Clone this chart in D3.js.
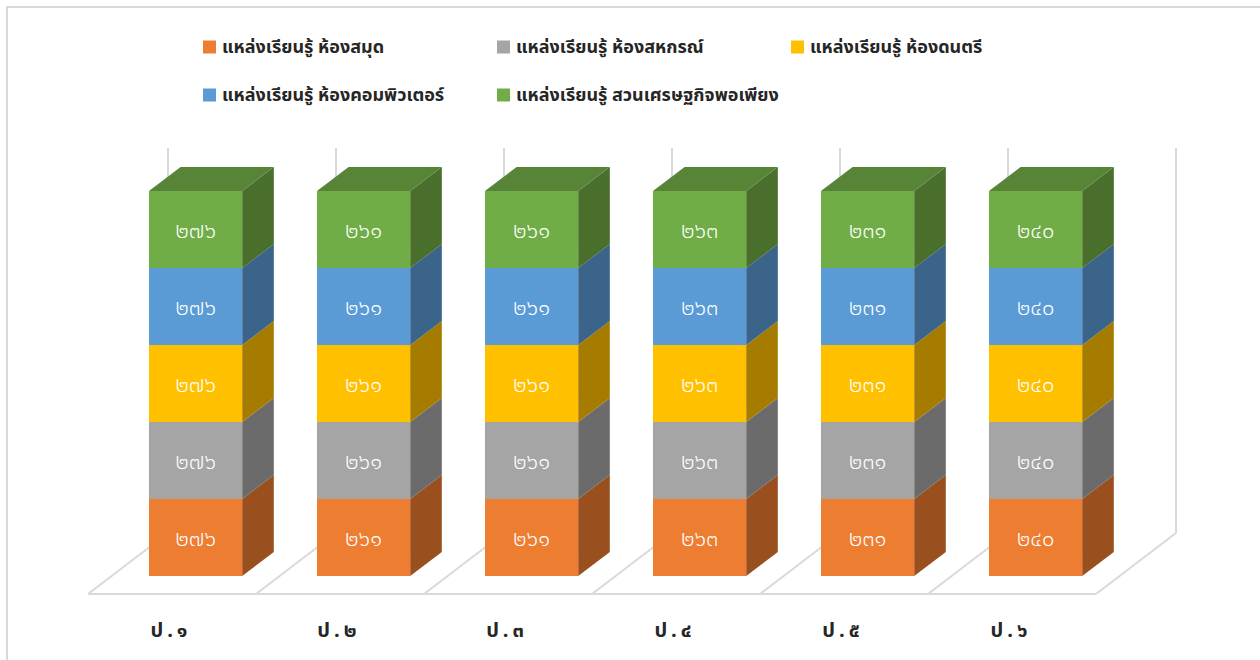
<!DOCTYPE html>
<html>
<head>
<meta charset="utf-8">
<script src="https://cdn.jsdelivr.net/npm/d3@7"></script>
<style>
  body { margin: 0; background: #fff; }
  svg text { font-family: "Noto Sans Thai", "Tahoma", "Noto Sans", sans-serif; }
</style>
</head>
<body>
<svg id="chart" width="1260" height="660"></svg>
<script>
// chart data
const categories = ['ป.๑', 'ป.๒', 'ป.๓', 'ป.๔', 'ป.๕', 'ป.๖'];
const seriesNames = [
  'แหล่งเรียนรู้ ห้องสมุด',
  'แหล่งเรียนรู้ ห้องสหกรณ์',
  'แหล่งเรียนรู้ ห้องดนตรี',
  'แหล่งเรียนรู้ ห้องคอมพิวเตอร์',
  'แหล่งเรียนรู้ สวนเศรษฐกิจพอเพียง'
];
const library = [276, 261, 261, 263, 231, 240];
const coop = [276, 261, 261, 263, 231, 240];
const music = [276, 261, 261, 263, 231, 240];
const computer = [276, 261, 261, 263, 231, 240];
const garden = [276, 261, 261, 263, 231, 240];

const front = ['#ED7D31', '#A5A5A5', '#FFC000', '#5B9BD5', '#70AD47'];
const side = ['#9A4F1F', '#6B6B6B', '#A67C00', '#3A6489', '#4A6F2D'];
const topCol = '#578436';

const thaiDigits = '๐๑๒๓๔๕๖๗๘๙';
const toThai = n => String(n).replace(/[0-9]/g, d => thaiDigits[+d]);

const svg = d3.select('#chart');

// chart border
svg.append('rect')
  .attr('x', 7).attr('y', 7)
  .attr('width', 1300).attr('height', 700)
  .attr('fill', 'none')
  .attr('stroke', '#d9d9d9')
  .attr('stroke-width', 2);

// build table and stack to 100%
const keys = ['library', 'coop', 'music', 'computer', 'garden'];
const cols = [library, coop, music, computer, garden];
const table = categories.map((c, i) => {
  const row = { cat: c };
  keys.forEach((k, j) => row[k] = cols[j][i]);
  return row;
});
const stacked = d3.stack().keys(keys).offset(d3.stackOffsetExpand)(table);

// 3d geometry
const floorY = 594;
const DX = 80, DY = 61;          // floor depth vector
const d0 = 0.295, d1 = 0.69;     // bar depth range
const x = d3.scaleBand().domain(categories).range([88, 1096]).padding(0);
const y = d3.scaleLinear().domain([0, 1]).range([0, 385]);
const barW = x.bandwidth() * 0.555;
const proj = (px, v, d) => [px + d * DX, floorY - y(v) - d * DY];
const poly = pts => 'M' + pts.map(p => p.join(',')).join('L') + 'Z';

const grid = svg.append('g').attr('stroke', '#d9d9d9').attr('stroke-width', 2).attr('fill', 'none');
const bounds = categories.map(c => x(c)).concat([x.range()[1]]);
// floor gridlines
bounds.forEach(b => {
  grid.append('path').attr('d', 'M' + proj(b, 0, 0) + 'L' + proj(b, 0, 1));
});
grid.append('path').attr('d', 'M' + proj(bounds[0], 0, 0) + 'L' + proj(bounds[bounds.length - 1], 0, 0));
// back wall gridlines
bounds.forEach(b => {
  grid.append('path').attr('d', 'M' + proj(b, 0, 1) + 'L' + proj(b, 1, 1));
});

// bars
const bars = svg.append('g');
categories.forEach((c, i) => {
  const xl = x(c) + (x.bandwidth() - barW) / 2;
  const xr = xl + barW;
  const g = bars.append('g');
  stacked.forEach((s, j) => {
    const lo = s[i][0], hi = s[i][1];
    // front
    g.append('path')
      .attr('d', poly([proj(xl, lo, d0), proj(xr, lo, d0), proj(xr, hi, d0), proj(xl, hi, d0)]))
      .attr('fill', front[j]);
    // side
    g.append('path')
      .attr('d', poly([proj(xr, lo, d0), proj(xr, lo, d1), proj(xr, hi, d1), proj(xr, hi, d0)]))
      .attr('fill', side[j]);
    if (j === stacked.length - 1) {
      g.append('path')
        .attr('d', poly([proj(xl, hi, d0), proj(xr, hi, d0), proj(xr, hi, d1), proj(xl, hi, d1)]))
        .attr('fill', topCol);
    }
    const p = proj((xl + xr) / 2, (lo + hi) / 2, d0);
    g.append('text')
      .attr('x', p[0]).attr('y', p[1])
      .attr('dy', '0.4em')
      .attr('text-anchor', 'middle')
      .attr('fill', '#fff')
      .style('font-size', '22px')
      .style('font-weight', '300')
      .text(toThai(s[i].data[s.key]));
  });
});

// category labels
svg.append('g').selectAll('text')
  .data(categories)
  .join('text')
  .attr('x', d => x(d) + x.bandwidth() / 2 - 1)
  .attr('y', 630)
  .attr('dy', '0.35em')
  .attr('text-anchor', 'middle')
  .attr('fill', '#262626')
  .style('font-size', '20px')
  .style('font-weight', 'bold')
  .style('letter-spacing', '4px')
  .text(d => d);

// legend
const legendPos = [[203, 47], [497, 47], [791, 47], [203, 95], [497, 95]];
const legend = svg.append('g').selectAll('g')
  .data(seriesNames)
  .join('g')
  .attr('transform', (d, i) => `translate(${legendPos[i][0]},${legendPos[i][1]})`);
legend.append('rect')
  .attr('x', 0).attr('y', -6.5)
  .attr('width', 13).attr('height', 13)
  .attr('fill', (d, i) => front[i]);
legend.append('text')
  .attr('x', 19).attr('y', 0)
  .attr('dy', '0.35em')
  .attr('fill', '#262626')
  .style('font-size', '18px')
  .style('font-weight', 'bold')
  .text(d => d);
</script>
</body>
</html>
